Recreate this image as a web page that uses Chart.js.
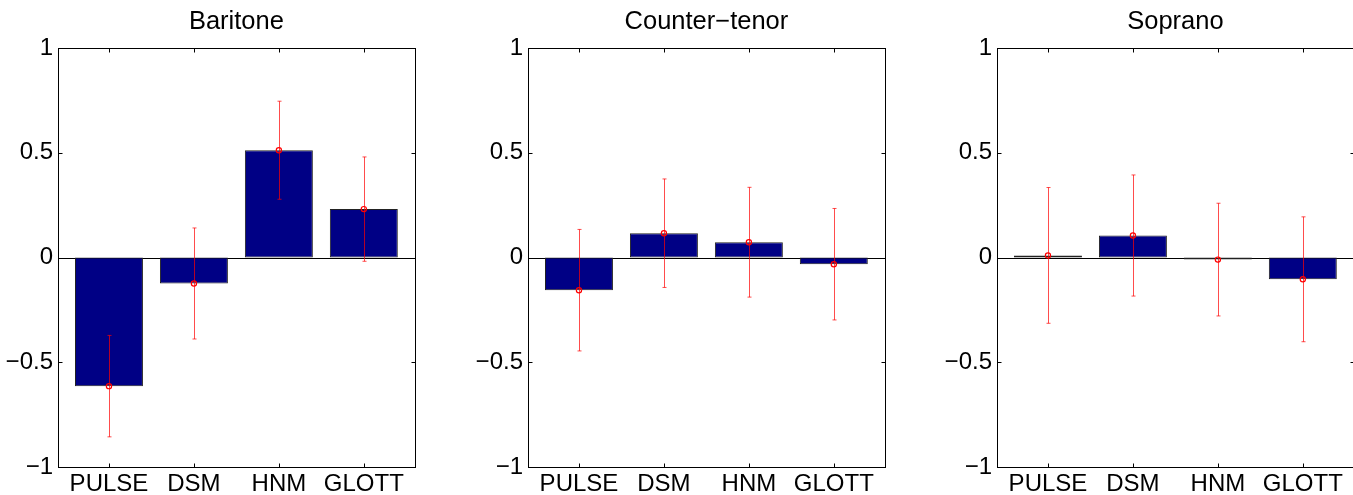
<!DOCTYPE html>
<html>
<head>
<meta charset="utf-8">
<script src="https://cdn.jsdelivr.net/npm/chart.js@4.4.1/dist/chart.umd.min.js"></script>
<style>
  html, body { margin: 0; padding: 0; background: #fff; overflow: hidden; }
  body { width: 1353px; height: 495px; position: relative; }
  canvas { position: absolute; top: 0; }
</style>
</head>
<body>
<canvas id="baritoneChart" width="420" height="495" style="left:0px"></canvas>
<canvas id="counterTenorChart" width="420" height="495" style="left:470px"></canvas>
<canvas id="sopranoChart" width="420" height="495" style="left:939px"></canvas>
<script>
// Données
const methods = ['PULSE', 'DSM', 'HNM', 'GLOTT'];
const yTicks = [-1, -0.5, 0, 0.5, 1];

const baritoneMeans = [-0.614, -0.124, 0.512, 0.231];
const baritoneErrors = [0.242, 0.265, 0.234, 0.249];

const counterTenorMeans = [-0.156, 0.116, 0.073, -0.032];
const counterTenorErrors = [0.290, 0.259, 0.262, 0.266];

const sopranoMeans = [0.010, 0.105, -0.010, -0.104];
const sopranoErrors = [0.324, 0.289, 0.269, 0.298];

const barColor = '#000085';
const errColor = 'rgba(255, 0, 0, 0.7)';
const fontFamily = '"Liberation Sans", Arial, Helvetica, sans-serif';
const tickFont = { family: fontFamily, size: 24 };

const fmtTick = (v) => (v < 0 ? '\u2212' + Math.abs(v) : String(v));

/**
 * Cadre, ligne zéro, barres d'erreur et titre (style MATLAB)
 */
const panelDecor = (title, errors) => ({
    id: 'panelDecor',
    beforeDatasetsDraw(chart) {
        const { ctx, chartArea, scales } = chart;
        const y0 = Math.round(scales.y.getPixelForValue(0)) + 0.5;
        ctx.save();
        ctx.strokeStyle = '#000';
        ctx.lineWidth = 1;
        ctx.beginPath();
        ctx.moveTo(chartArea.left, y0);
        ctx.lineTo(chartArea.right, y0);
        ctx.stroke();
        ctx.restore();
    },
    afterDatasetDraw(chart, args) {
        if (args.meta.type !== 'bar') return;
        const { ctx, scales } = chart;
        const points = chart.data.datasets[0].data;
        ctx.save();
        ctx.strokeStyle = errColor;
        ctx.lineWidth = 1;
        points.forEach((p, i) => {
            const x = Math.round(scales.x.getPixelForValue(p.x)) + 0.5;
            const yTop = scales.y.getPixelForValue(p.y + errors[i]);
            const yBot = scales.y.getPixelForValue(p.y - errors[i]);
            ctx.beginPath();
            ctx.moveTo(x, yTop);
            ctx.lineTo(x, yBot);
            ctx.moveTo(x - 2, yTop);
            ctx.lineTo(x + 2, yTop);
            ctx.moveTo(x - 2, yBot);
            ctx.lineTo(x + 2, yBot);
            ctx.stroke();
        });
        ctx.restore();
    },
    afterDatasetsDraw(chart) {
        const { ctx, chartArea, scales } = chart;
        const left = Math.round(chartArea.left) + 0.5;
        const right = Math.round(chartArea.right) + 0.5;
        const top = Math.round(chartArea.top) + 0.5;
        const bottom = Math.round(chartArea.bottom) + 0.5;
        const tl = 4;
        ctx.save();
        ctx.strokeStyle = '#000';
        ctx.lineWidth = 1;
        ctx.strokeRect(left, top, right - left, bottom - top);
        ctx.beginPath();
        methods.forEach((m, i) => {
            const x = Math.round(scales.x.getPixelForValue(i + 1)) + 0.5;
            ctx.moveTo(x, bottom);
            ctx.lineTo(x, bottom - tl);
            ctx.moveTo(x, top);
            ctx.lineTo(x, top + tl);
        });
        yTicks.forEach((v) => {
            const y = Math.round(scales.y.getPixelForValue(v)) + 0.5;
            ctx.moveTo(left, y);
            ctx.lineTo(left + tl, y);
            ctx.moveTo(right, y);
            ctx.lineTo(right - tl, y);
        });
        ctx.stroke();

        ctx.fillStyle = '#000';
        ctx.font = '25.5px ' + fontFamily;
        ctx.textAlign = 'center';
        ctx.textBaseline = 'alphabetic';
        ctx.fillText(title, (chartArea.left + chartArea.right) / 2, chartArea.top - 18.7);
        ctx.restore();
    }
});

/**
 * Crée un panneau (barres + moyennes)
 */
const createPanel = (canvasId, title, means, errors) => {
    const ctx = document.getElementById(canvasId).getContext('2d');
    const points = means.map((v, i) => ({ x: i + 1, y: v }));

    return new Chart(ctx, {
        data: {
            datasets: [{
                type: 'bar',
                data: points,
                backgroundColor: barColor,
                borderColor: '#222',
                borderWidth: 1,
                borderSkipped: false,
                barPercentage: 0.8,
                categoryPercentage: 1,
                order: 2
            }, {
                type: 'line',
                data: points,
                showLine: false,
                pointStyle: 'circle',
                pointRadius: 2.6,
                pointBorderWidth: 1.2,
                pointBorderColor: '#ff0000',
                pointBackgroundColor: 'rgba(0,0,0,0)',
                order: 1
            }]
        },
        options: {
            responsive: false,
            animation: false,
            events: [],
            layout: { padding: { top: 48, right: 5, left: 0, bottom: 0 } },
            plugins: {
                legend: { display: false },
                tooltip: { enabled: false }
            },
            scales: {
                x: {
                    type: 'linear',
                    min: 0.4,
                    max: 4.6,
                    offset: false,
                    afterBuildTicks: (s) => { s.ticks = methods.map((m, i) => ({ value: i + 1 })); },
                    afterFit: (s) => { s.height = 28; },
                    grid: { display: false, drawTicks: false },
                    border: { display: false },
                    ticks: {
                        callback: (v) => methods[v - 1],
                        font: tickFont,
                        color: '#000',
                        padding: 3,
                        maxRotation: 0,
                        autoSkip: false
                    }
                },
                y: {
                    type: 'linear',
                    min: -1,
                    max: 1,
                    afterBuildTicks: (s) => { s.ticks = yTicks.map((v) => ({ value: v })); },
                    afterFit: (s) => { s.width = 58; },
                    grid: { display: false, drawTicks: false },
                    border: { display: false },
                    ticks: {
                        callback: (v) => fmtTick(v),
                        font: tickFont,
                        color: '#000',
                        padding: 5
                    }
                }
            }
        },
        plugins: [panelDecor(title, errors)]
    });
};

createPanel('baritoneChart', 'Baritone', baritoneMeans, baritoneErrors);
createPanel('counterTenorChart', 'Counter\u2212tenor', counterTenorMeans, counterTenorErrors);
createPanel('sopranoChart', 'Soprano', sopranoMeans, sopranoErrors);
</script>
</body>
</html>
